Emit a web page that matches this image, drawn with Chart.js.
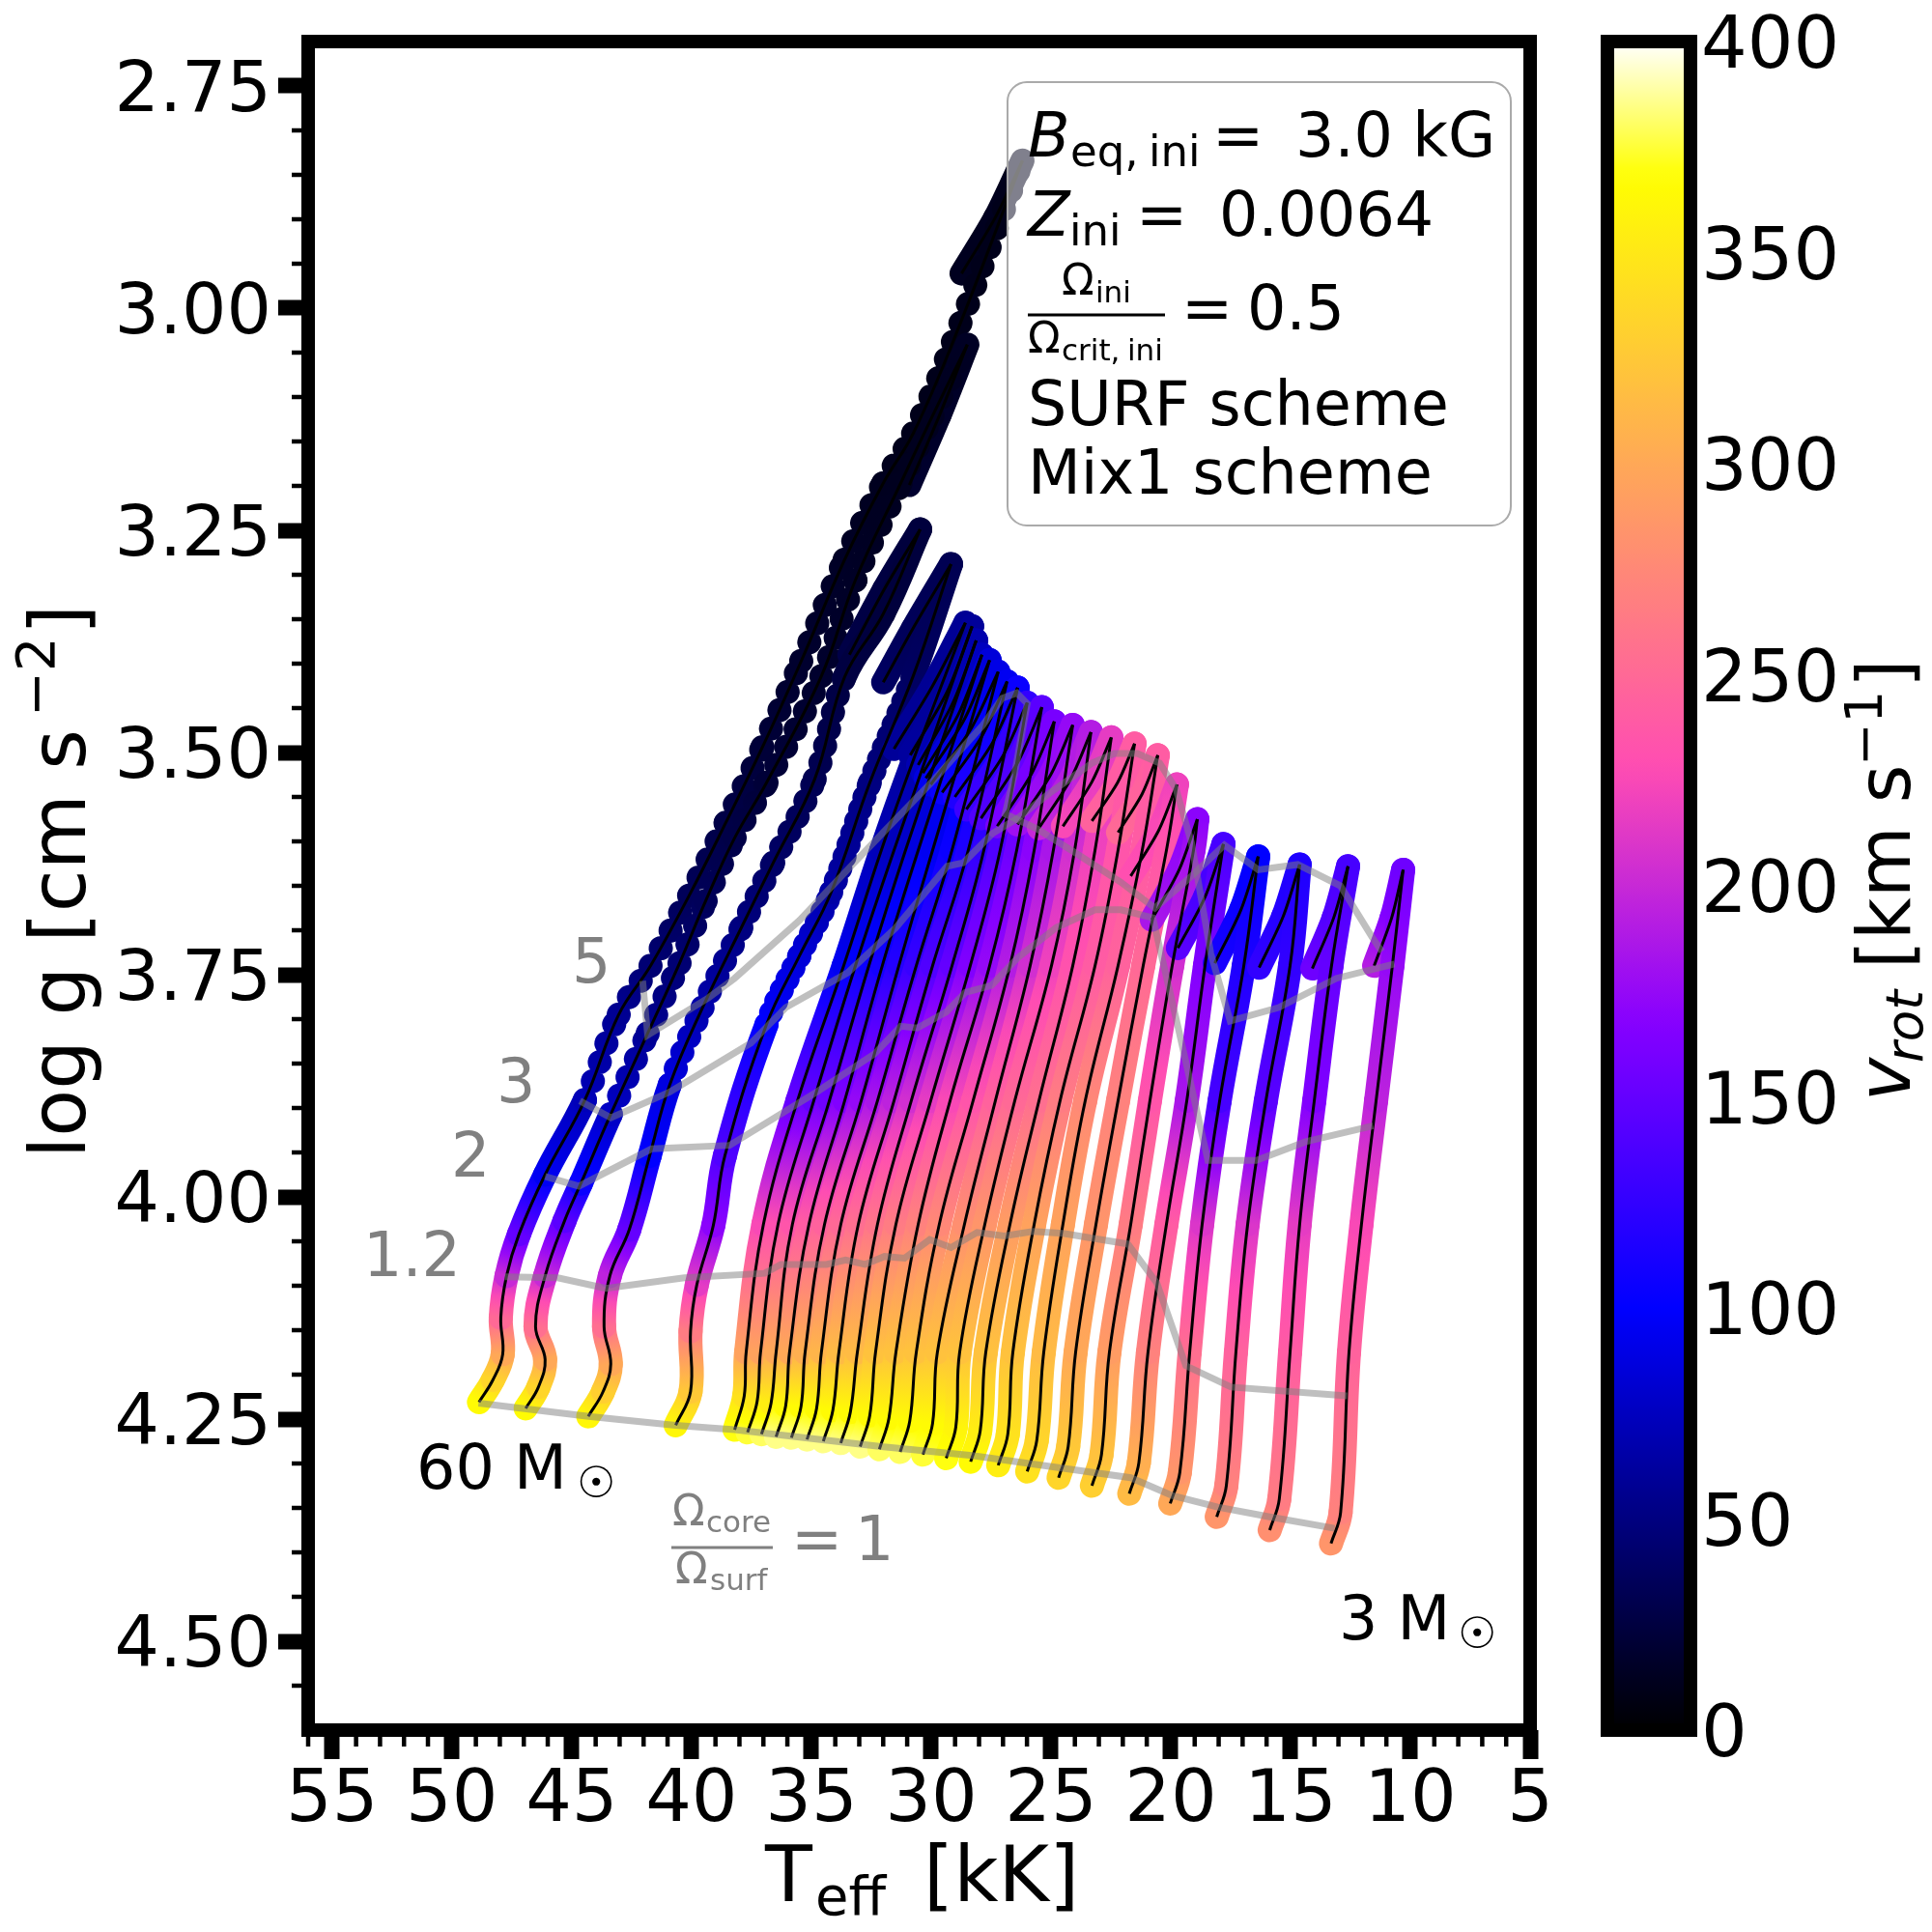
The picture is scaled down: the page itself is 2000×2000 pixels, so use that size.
<!DOCTYPE html>
<html>
<head>
<meta charset="utf-8">
<title>log g - Teff tracks</title>
<script src="https://cdn.jsdelivr.net/npm/chart.js@4/dist/chart.umd.min.js"></script>
<style>
    body { margin: 0; background: #fff; }
    canvas { position: absolute; left: 0; top: 0; }
</style>
</head>
<body>
<canvas id="hrChart" width="2000" height="2000"></canvas>
<canvas id="colorBar" width="2000" height="2000"></canvas>
<script>
// one inner list per evolutionary track, 60 Msun first, 3 Msun last
const trackTeff = [
    [48.87,48.29,47.88,47.96,47.72,47.20,46.11,44.45,43.04,41.71,40.10,38.57,37.04,35.42,33.61,32.00,30.75,29.09,26.19,27.32,28.73],
    [46.92,46.39,46.11,46.51,46.11,45.30,44.62,43.37,41.83,40.50,39.41,38.20,36.87,34.58,33.16,31.27,29.94,28.49,29.66,30.91],
    [44.31,43.69,43.37,43.65,43.41,42.60,41.75,40.91,39.54,37.92,36.59,34.86,33.61,32.00,30.46,31.95,33.41],
    [40.66,40.04,40.04,39.78,39.09,38.61,36.87,35.50,34.17,32.56,30.75,29.17,30.75,32.00],
    [38.20,37.80,37.72,37.00,35.58,33.65,32.08,30.75,28.57,29.94,31.55],
    [37.66,37.26,37.12,36.39,34.90,33.16,31.55,28.29,29.32,30.87],
    [37.08,36.68,36.47,35.79,34.25,32.60,31.07,28.12,29.09,30.54],
    [36.47,36.07,35.91,35.10,33.61,32.04,30.54,27.88,28.86,30.34],
    [35.83,35.43,35.26,34.45,32.92,31.35,29.94,27.56,28.62,30.22],
    [35.18,34.78,34.58,33.77,32.24,30.62,29.13,27.20,28.33,30.02],
    [34.50,34.10,33.85,33.04,31.55,29.94,28.45,26.83,27.91,29.54],
    [33.77,33.37,33.08,32.24,30.83,29.13,27.80,26.39,27.44,29.01],
    [32.96,32.56,32.32,31.47,30.02,28.37,27.12,25.99,27.01,28.53],
    [32.16,31.76,31.47,30.54,29.21,27.56,26.43,25.38,26.40,27.92],
    [31.29,30.89,30.62,29.66,28.25,26.71,25.70,24.86,25.81,27.24],
    [30.34,29.94,29.74,28.61,27.32,25.87,24.90,24.09,25.01,26.39],
    [29.37,28.97,28.81,27.76,26.51,24.98,24.01,23.33,24.20,25.50],
    [28.35,27.95,27.72,26.71,25.50,24.09,23.16,22.48,23.29,24.50],
    [27.20,26.80,26.59,25.70,24.62,23.16,22.20,21.51,22.22,23.29],
    [25.99,25.59,25.30,24.50,23.57,22.20,21.19,20.54,21.20,22.20],
    [24.68,24.28,23.97,23.12,22.20,21.15,20.18,19.74,20.51,21.67],
    [23.29,22.89,22.56,21.67,20.87,19.94,19.05,18.89,19.65,20.79],
    [21.73,21.33,20.95,20.18,19.33,18.57,17.80,18.56,19.70],
    [20.02,19.62,19.21,18.69,17.96,16.95,16.35,17.07,18.16],
    [18.08,17.68,17.28,16.79,16.03,15.02,14.62,15.30,16.31],
    [15.87,15.47,15.02,14.62,14.01,13.29,12.60,13.20,14.09],
    [13.31,12.91,12.56,12.04,11.43,10.75,10.30,10.78,11.51]
];
const trackLogg = [
    [4.231,4.206,4.177,4.136,4.089,4.042,3.975,3.891,3.795,3.740,3.661,3.579,3.494,3.397,3.283,3.197,3.141,3.038,2.834,2.898,2.961],
    [4.238,4.214,4.183,4.146,4.089,4.027,3.985,3.907,3.816,3.737,3.667,3.596,3.534,3.414,3.306,3.197,3.121,3.041,3.121,3.199],
    [4.247,4.219,4.188,4.146,4.089,4.037,3.954,3.874,3.787,3.697,3.624,3.530,3.415,3.344,3.249,3.316,3.390],
    [4.257,4.219,4.151,4.099,4.032,3.954,3.806,3.729,3.657,3.534,3.414,3.288,3.360,3.421],
    [4.262,4.224,4.175,4.031,3.892,3.740,3.610,3.509,3.354,3.425,3.496],
    [4.265,4.230,4.175,4.031,3.892,3.740,3.610,3.358,3.431,3.503],
    [4.267,4.232,4.175,4.031,3.892,3.740,3.610,3.374,3.444,3.514],
    [4.270,4.235,4.175,4.031,3.892,3.740,3.610,3.390,3.457,3.523],
    [4.271,4.236,4.175,4.031,3.892,3.740,3.610,3.396,3.463,3.529],
    [4.273,4.238,4.175,4.031,3.892,3.740,3.610,3.409,3.473,3.536],
    [4.275,4.240,4.175,4.031,3.892,3.740,3.610,3.420,3.483,3.545],
    [4.277,4.242,4.175,4.031,3.892,3.740,3.610,3.427,3.489,3.550],
    [4.281,4.246,4.175,4.031,3.892,3.740,3.610,3.444,3.504,3.564],
    [4.284,4.249,4.175,4.031,3.892,3.740,3.610,3.449,3.512,3.574],
    [4.287,4.252,4.175,4.031,3.892,3.740,3.610,3.465,3.524,3.583],
    [4.290,4.255,4.175,4.031,3.892,3.740,3.610,3.469,3.525,3.581],
    [4.294,4.259,4.175,4.031,3.892,3.740,3.610,3.477,3.531,3.585],
    [4.298,4.263,4.175,4.031,3.892,3.740,3.610,3.483,3.533,3.583],
    [4.302,4.267,4.175,4.031,3.892,3.740,3.610,3.490,3.534,3.577],
    [4.309,4.274,4.175,4.031,3.892,3.740,3.610,3.503,3.547,3.590],
    [4.316,4.281,4.175,4.031,3.892,3.740,3.610,3.536,3.588,3.639],
    [4.325,4.290,4.175,4.031,3.892,3.740,3.610,3.575,3.632,3.688],
    [4.334,4.299,4.175,4.031,3.892,3.740,3.603,3.662,3.720],
    [4.345,4.310,4.175,4.031,3.892,3.740,3.617,3.677,3.737],
    [4.360,4.325,4.175,4.031,3.892,3.740,3.626,3.684,3.742],
    [4.375,4.340,4.175,4.031,3.892,3.740,3.628,3.686,3.743],
    [4.390,4.355,4.175,4.031,3.892,3.740,3.632,3.686,3.740]
];
const trackVrot = [
    [365,335,300,250,200,150,95,72,58,45,35,28,22,18,15,12,10,10,10,12,12],
    [365,335,300,255,200,145,105,78,58,45,35,28,22,18,15,12,12,14,16,18],
    [362,330,300,255,195,150,100,88,68,50,40,32,26,24,24,26,28],
    [362,325,265,215,170,140,100,85,65,50,38,32,35,38],
    [370,345,295,225,150,95,72,62,58,58,60],
    [375,350,295,230,150,100,75,60,60,62],
    [380,355,300,235,155,105,80,68,68,70],
    [385,365,300,240,165,110,88,75,75,78],
    [385,365,305,245,175,118,95,85,85,88],
    [385,365,310,250,185,128,105,90,92,95],
    [385,365,315,255,195,140,115,95,98,105],
    [385,365,315,260,205,150,125,105,108,115],
    [385,365,320,265,215,165,140,125,125,130],
    [380,365,320,270,225,175,155,145,140,140],
    [380,365,320,275,235,190,170,160,160,160],
    [375,365,320,280,245,205,185,175,175,180],
    [370,360,320,285,250,220,205,190,190,200],
    [365,355,320,290,255,232,220,215,215,225],
    [355,345,320,295,265,240,235,240,240,245],
    [345,335,315,295,275,245,240,240,245,250],
    [335,325,300,285,270,250,235,220,225,230],
    [330,320,290,265,235,205,180,170,175,185],
    [315,305,270,240,185,165,135,135,145],
    [300,285,255,210,135,115,100,105,112],
    [285,270,245,210,145,125,115,118,125],
    [280,265,240,215,165,150,135,140,155],
    [285,270,245,225,195,175,155,165,190]
];

// lines of constant Omega_core / Omega_surf
const contour1Teff = [48.89,44.29,40.66,38.20,32.08,28.29,21.67,19.94,18.04,15.87,13.16];
const contour1Logg = [4.232,4.247,4.257,4.262,4.281,4.291,4.316,4.336,4.349,4.360,4.373];
const contour12Teff = [47.80,45.58,43.57,40.30,36.95,36.27,34.37,33.57,32.76,31.95,31.11,30.06,29.17,28.08,26.95,25.75,24.50,21.79,20.58,19.37,17.48,12.64];
const contour12Logg = [4.090,4.091,4.103,4.091,4.086,4.076,4.076,4.071,4.076,4.067,4.069,4.048,4.057,4.040,4.044,4.039,4.041,4.053,4.097,4.190,4.214,4.224];
const contour2Teff = [46.11,44.70,41.67,38.41,34.78,32.36,31.27,30.58,29.37,28.57,27.48,26.39,24.78,23.16,22.08,20.75,19.66,18.45,16.43,14.37,11.55];
const contour2Logg = [3.977,3.988,3.946,3.942,3.882,3.839,3.808,3.810,3.792,3.770,3.762,3.731,3.697,3.677,3.677,3.686,3.813,3.959,3.959,3.938,3.920];
const contour3Teff = [44.66,43.37,40.91,37.52,36.07,33.49,31.47,29.33,28.65,27.44,26.39,25.02,23.29,22.36,21.39,20.46,19.78,19.13,18.33,17.52,15.50,13.08,10.66];
const contour3Logg = [3.892,3.911,3.882,3.827,3.787,3.748,3.697,3.628,3.624,3.591,3.574,3.545,3.512,3.501,3.501,3.512,3.541,3.602,3.726,3.802,3.787,3.754,3.738];
const contour5Teff = [42.04,41.83,39.29,38.20,35.50,33.49,32.04,29.86,27.84,27.04,26.43,25.99,26.51,26.91,25.58,23.97,22.08,20.66,19.13,17.76,16.35,14.70,12.92,11.59,11.19];
const contour5Logg = [3.757,3.818,3.776,3.754,3.689,3.632,3.591,3.530,3.469,3.439,3.433,3.445,3.523,3.569,3.586,3.613,3.646,3.675,3.639,3.604,3.632,3.626,3.650,3.708,3.724];

const xTicks = [55,50,45,40,35,30,25,20,15,10,5];
const yTicks = [2.75,3.00,3.25,3.50,3.75,4.00,4.25,4.50];
const cbTicks = [0,50,100,150,200,250,300,350,400];

const FONT = "'DejaVu Sans'";
const GREY = "#808080";
// above these log g the massive tracks are solid again, no more beads
const beadTop = [3.02, 3.10, 3.42, 3.46];
const beadGap = [21, 21, 18, 13];

// matplotlib gnuplot2 colour map, v in km/s over 0-400
function gnuplot2(v) {
    let t = Math.min(1, Math.max(0, v / 400));
    let r = Math.min(1, Math.max(0, t / 0.32 - 0.78125));
    let g = Math.min(1, Math.max(0, 2 * t - 0.84));
    let b;
    if (t < 0.25) b = 4 * t;
    else if (t < 0.92) b = Math.min(1, -2 * t + 1.84);
    else b = t / 0.08 - 11.5;
    return "rgb(" + Math.round(r * 255) + "," + Math.round(g * 255) + "," + Math.round(b * 255) + ")";
}

function makePoints(teff, logg, vrot) {
    return teff.map((x, i) => ({ x: x, y: logg[i], v: vrot ? vrot[i] : 0 }));
}

// each piece of a track fades between the vrot of its two end points
function segmentColor(ctx) {
    let pts = ctx.chart.data.datasets[ctx.datasetIndex].data;
    let v0 = pts[ctx.p0DataIndex].v;
    let v1 = pts[ctx.p1DataIndex].v;
    let grad = ctx.chart.ctx.createLinearGradient(ctx.p0.x, ctx.p0.y, ctx.p1.x, ctx.p1.y);
    for (let i = 0; i <= 4; i++) {
        grad.addColorStop(i / 4, gnuplot2(v0 + (v1 - v0) * i / 4));
    }
    return grad;
}

// the most massive tracks have widely spaced models, they show as beads
function segmentDash(ctx) {
    let ds = ctx.chart.data.datasets[ctx.datasetIndex];
    let i = ds.trackIndex;
    if (i < 4 && !ds.isHook) {
        let y = ds.data[ctx.p0DataIndex].y;
        if (y < 3.95 && y > beadTop[i]) return [0.01, beadGap[i]];
    }
    return [];
}

let datasets = [];
trackTeff.forEach((teff, i) => {
    let pts = makePoints(teff, trackLogg[i], trackVrot[i]);
    // split at the turn so the tip stays sharp
    let tip = trackLogg[i].indexOf(Math.min(...trackLogg[i]));
    [pts.slice(0, tip + 1), pts.slice(tip)].forEach((part, k) => {
        datasets.push({
            data: part,
            trackIndex: i,
            isHook: k == 1,
            order: 200 - i,
            borderWidth: 25,
            borderCapStyle: "round",
            borderJoinStyle: "round",
            tension: k == 0 ? 0.4 : 0.3,
            pointRadius: 0,
            segment: { borderColor: segmentColor, borderDash: segmentDash }
        });
        datasets.push({
            data: part,
            order: 50,
            borderColor: "#000",
            borderWidth: 3,
            tension: k == 0 ? 0.4 : 0.3,
            pointRadius: 0
        });
    });
});
[[contour1Teff, contour1Logg], [contour12Teff, contour12Logg], [contour2Teff, contour2Logg],
 [contour3Teff, contour3Logg], [contour5Teff, contour5Logg]].forEach(c => {
    datasets.push({
        data: makePoints(c[0], c[1]),
        order: 1,
        borderColor: "rgba(128,128,128,0.5)",
        borderWidth: 7,
        borderJoinStyle: "miter",
        tension: 0,
        pointRadius: 0
    });
});

function put(ctx, str, x, y, font, color) {
    ctx.font = font;
    ctx.fillStyle = color || "#000";
    ctx.textAlign = "left";
    ctx.textBaseline = "alphabetic";
    ctx.fillText(str, x, y);
}

function fracBar(ctx, x0, x1, y, color) {
    ctx.fillStyle = color;
    ctx.fillRect(x0, y - 1.5, x1 - x0, 3);
}

function noScalePadding(s) {
    s.paddingLeft = 0;
    s.paddingRight = 0;
    s.paddingTop = 0;
    s.paddingBottom = 0;
}

const annotations = {
    id: "annotations",
    afterDatasetsDraw(chart) {
        let ctx = chart.ctx;
        let xs = chart.scales.x, ys = chart.scales.y, area = chart.chartArea;
        ctx.save();

        // parameter box, half transparent over the curves
        ctx.beginPath();
        ctx.roundRect(1043, 85, 521, 459, 20);
        ctx.fillStyle = "rgba(255,255,255,0.5)";
        ctx.fill();
        ctx.strokeStyle = "#aaaaaa";
        ctx.lineWidth = 2;
        ctx.stroke();

        // frame and minor ticks
        ctx.strokeStyle = "#000";
        ctx.lineWidth = 14;
        ctx.strokeRect(area.left, area.top, area.right - area.left, area.bottom - area.top);
        ctx.lineWidth = 4.5;
        ctx.beginPath();
        for (let t = 6; t <= 56; t++) {
            if (t % 5 == 0) continue;
            let px = xs.getPixelForValue(t);
            ctx.moveTo(px, area.bottom);
            ctx.lineTo(px, area.bottom + 17);
        }
        for (let k = 0; k <= 36; k++) {
            if (k % 5 == 0) continue;
            let py = ys.getPixelForValue(2.75 + k * 0.05);
            ctx.moveTo(area.left, py);
            ctx.lineTo(area.left - 17, py);
        }
        ctx.stroke();

        let big = "63.5px " + FONT, sub = "45px " + FONT, ital = "italic 63.5px " + FONT;
        let small = "44px " + FONT, tiny = "31px " + FONT;
        put(ctx, "B", 1064, 162, ital);
        put(ctx, "eq,", 1108, 172, sub);
        put(ctx, "ini", 1189, 172, sub);
        put(ctx, "=", 1255, 162, big);
        put(ctx, "3.0 kG", 1341, 162, big);
        put(ctx, "Z", 1064, 244, ital);
        put(ctx, "ini", 1107, 254, sub);
        put(ctx, "=", 1176, 244, big);
        put(ctx, "0.0064", 1262, 244, big);
        put(ctx, "\u03a9", 1099, 305, small);
        put(ctx, "ini", 1134, 313, tiny);
        fracBar(ctx, 1064, 1206, 326, "#000");
        put(ctx, "\u03a9", 1064, 365, small);
        put(ctx, "crit,", 1099, 373, tiny);
        put(ctx, "ini", 1167, 373, tiny);
        put(ctx, "=", 1223, 341, big);
        put(ctx, "0.5", 1291, 341, big);
        put(ctx, "SURF scheme", 1064, 440, big);
        put(ctx, "Mix1 scheme", 1064, 511, big);

        // curve labels
        put(ctx, "5", 592, 1017, big, GREY);
        put(ctx, "3", 514, 1141, big, GREY);
        put(ctx, "2", 467, 1218, big, GREY);
        put(ctx, "1.2", 376, 1321, big, GREY);
        put(ctx, "\u03a9", 696, 1579, small, GREY);
        put(ctx, "core", 731, 1586, tiny, GREY);
        fracBar(ctx, 695, 800, 1602, GREY);
        put(ctx, "\u03a9", 699, 1639, small, GREY);
        put(ctx, "surf", 735, 1646, tiny, GREY);
        put(ctx, "=", 819, 1615, big, GREY);
        put(ctx, "1", 885, 1615, big, GREY);
        put(ctx, "60 M", 431, 1541, big);
        put(ctx, "\u2609", 597, 1550, sub);
        put(ctx, "3 M", 1386, 1697, big);
        put(ctx, "\u2609", 1509, 1706, sub);

        // axis titles
        put(ctx, "T", 792, 1968, "80px " + FONT);
        put(ctx, "eff", 844, 1982, "56px " + FONT);
        put(ctx, "[kK]", 956, 1968, "80px " + FONT);
        ctx.translate(88, 1199);
        ctx.rotate(-Math.PI / 2);
        put(ctx, "log g [cm s", 0, 0, "80px " + FONT);
        put(ctx, "\u22122", 457, -32, "56px " + FONT);
        put(ctx, "]", 542, 0, "80px " + FONT);
        ctx.restore();
    }
};

new Chart(document.getElementById("hrChart"), {
    type: "line",
    data: { datasets: datasets },
    plugins: [annotations],
    options: {
        responsive: false,
        devicePixelRatio: 1,
        animation: false,
        layout: { padding: { left: 0, top: 43, right: 416, bottom: 0 } },
        plugins: { legend: { display: false }, tooltip: { enabled: false }, title: { display: false } },
        scales: {
            x: {
                type: "linear",
                reverse: true,
                min: 5,
                max: 56,
                afterFit: s => { s.height = 209; noScalePadding(s); },
                afterBuildTicks: s => { s.ticks = xTicks.map(v => ({ value: v })); },
                grid: { display: true, drawOnChartArea: false, tickLength: 30, tickWidth: 16, tickColor: "#000" },
                border: { display: false },
                ticks: { autoSkip: false, maxRotation: 0, padding: 0, color: "#000", font: { family: "DejaVu Sans", size: 75 }, callback: v => String(v) }
            },
            y: {
                type: "linear",
                reverse: true,
                min: 2.7,
                max: 4.6,
                afterFit: s => { s.width = 319; noScalePadding(s); },
                afterBuildTicks: s => { s.ticks = yTicks.map(v => ({ value: v })); },
                grid: { display: true, drawOnChartArea: false, tickLength: 31, tickWidth: 16, tickColor: "#000" },
                border: { display: false },
                ticks: { autoSkip: false, padding: 7, labelOffset: 7, color: "#000", font: { family: "DejaVu Sans", size: 73 }, callback: v => v.toFixed(2) }
            }
        }
    }
});

// colour bar is its own small chart: one floating bar from 0 to 400
const barDecor = {
    id: "barDecor",
    afterDatasetsDraw(chart) {
        let ctx = chart.ctx, area = chart.chartArea;
        ctx.save();
        ctx.strokeStyle = "#000";
        ctx.lineWidth = 14;
        ctx.strokeRect(area.left, area.top, area.right - area.left, area.bottom - area.top);
        ctx.translate(1977, 1140);
        ctx.rotate(-Math.PI / 2);
        put(ctx, "v", 0, 0, "italic 76px " + FONT);
        put(ctx, "rot", 40, 13, "italic 53px " + FONT);
        put(ctx, "[km s", 137, 0, "76px " + FONT);
        put(ctx, "\u22121", 347, -29, "53px " + FONT);
        put(ctx, "]", 428, 0, "76px " + FONT);
        ctx.restore();
    }
};

new Chart(document.getElementById("colorBar"), {
    type: "bar",
    data: {
        labels: ["vrot"],
        datasets: [{
            data: [[0, 400]],
            barPercentage: 1,
            categoryPercentage: 1,
            backgroundColor: ctx => {
                let area = ctx.chart.chartArea;
                if (!area) return "#000";
                let ys = ctx.chart.scales.y;
                let grad = ctx.chart.ctx.createLinearGradient(0, ys.getPixelForValue(0), 0, ys.getPixelForValue(400));
                for (let i = 0; i <= 80; i++) {
                    grad.addColorStop(i / 80, gnuplot2(i * 5));
                }
                return grad;
            }
        }]
    },
    plugins: [barDecor],
    options: {
        responsive: false,
        devicePixelRatio: 1,
        animation: false,
        layout: { padding: { left: 1664, top: 43, right: 0, bottom: 209 } },
        plugins: { legend: { display: false }, tooltip: { enabled: false } },
        scales: {
            x: { display: false },
            y: {
                position: "right",
                min: 0,
                max: 400,
                afterFit: s => { s.width = 250; noScalePadding(s); },
                afterBuildTicks: s => { s.ticks = cbTicks.map(v => ({ value: v })); },
                grid: { display: false, drawTicks: false },
                border: { display: false },
                ticks: { padding: 11, labelOffset: 8, color: "#000", font: { family: "DejaVu Sans", size: 75 } }
            }
        }
    }
});
</script>
</body>
</html>
